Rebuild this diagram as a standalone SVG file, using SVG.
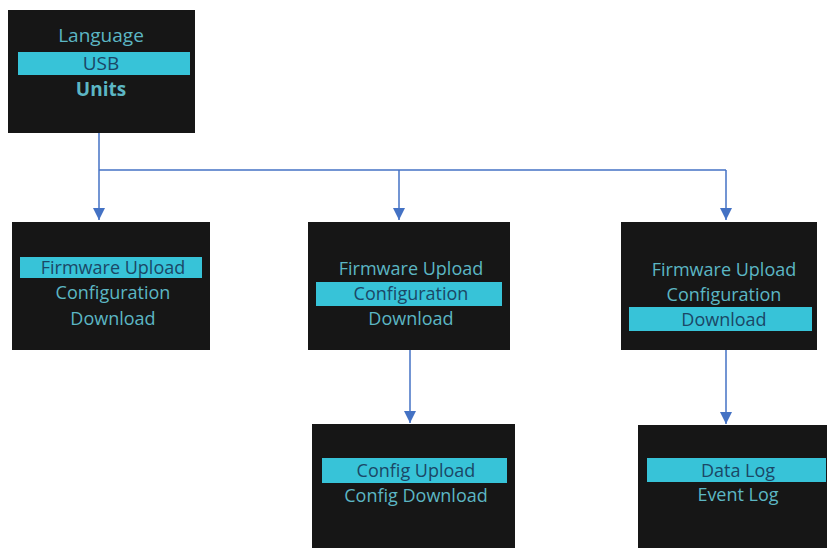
<svg xmlns="http://www.w3.org/2000/svg" width="828" height="549" viewBox="0 0 828 549">
  <style>
    .screen { fill: #161616; }
    .sel { fill: #37c3d8; }
    .t { font-family: "Open Sans", "Noto Sans", sans-serif; font-size: 18px; font-weight: 500; text-anchor: middle; fill: #5cb6c4; }
    .big { font-size: 19px; }
    .ts { fill: #1b4766; }
    .b { font-weight: bold; }
    .wire { stroke: #4472c4; stroke-width: 1.5; fill: none; }
  </style>
  <defs>
    <marker id="arrow" markerUnits="userSpaceOnUse" markerWidth="13" markerHeight="13" refX="12" refY="6.5" orient="auto">
      <path d="M0,0.5 L12,6.5 L0,12.5 z" fill="#4472c4"/>
    </marker>
  </defs>

  <rect width="828" height="549" fill="#ffffff"/>

  <!-- connectors -->
  <g id="connectors">
    <line class="wire" x1="99" y1="133" x2="99" y2="220" marker-end="url(#arrow)"/>
    <line class="wire" x1="99" y1="170" x2="726" y2="170"/>
    <line class="wire" x1="399" y1="170" x2="399" y2="220" marker-end="url(#arrow)"/>
    <line class="wire" x1="726" y1="170" x2="726" y2="220" marker-end="url(#arrow)"/>
    <line class="wire" x1="410" y1="350" x2="410" y2="423" marker-end="url(#arrow)"/>
    <line class="wire" x1="726" y1="350" x2="726" y2="424" marker-end="url(#arrow)"/>
  </g>

  <!-- main menu -->
  <g id="main-menu">
    <rect class="screen" x="8" y="10" width="187" height="123"/>
    <rect class="sel" x="18" y="52" width="172" height="23"/>
    <text class="t big" x="101" y="42">Language</text>
    <text class="t big ts" x="101" y="70">USB</text>
    <text class="t big b" x="101" y="96">Units</text>
  </g>

  <!-- USB menu: firmware upload selected -->
  <g id="usb-firmware">
    <rect class="screen" x="12" y="222" width="198" height="128"/>
    <rect class="sel" x="20" y="257" width="182" height="21"/>
    <text class="t ts" x="113" y="274">Firmware Upload</text>
    <text class="t" x="113" y="299">Configuration</text>
    <text class="t" x="113" y="325">Download</text>
  </g>

  <!-- USB menu: configuration selected -->
  <g id="usb-configuration">
    <rect class="screen" x="308" y="222" width="202" height="128"/>
    <rect class="sel" x="316" y="282" width="186" height="24"/>
    <text class="t" x="411" y="275">Firmware Upload</text>
    <text class="t ts" x="411" y="300">Configuration</text>
    <text class="t" x="411" y="325">Download</text>
  </g>

  <!-- USB menu: download selected -->
  <g id="usb-download">
    <rect class="screen" x="621" y="222" width="196" height="128"/>
    <rect class="sel" x="629" y="307" width="183" height="24"/>
    <text class="t" x="724" y="276">Firmware Upload</text>
    <text class="t" x="724" y="301">Configuration</text>
    <text class="t ts" x="724" y="326">Download</text>
  </g>

  <!-- configuration submenu -->
  <g id="config-menu">
    <rect class="screen" x="312" y="424" width="203" height="124"/>
    <rect class="sel" x="322" y="458" width="185" height="25"/>
    <text class="t ts" x="416" y="477">Config Upload</text>
    <text class="t" x="416" y="502">Config Download</text>
  </g>

  <!-- download submenu -->
  <g id="download-menu">
    <rect class="screen" x="638" y="425" width="189" height="123"/>
    <rect class="sel" x="647" y="458" width="179" height="24"/>
    <text class="t ts" x="738" y="477">Data Log</text>
    <text class="t" x="738" y="501">Event Log</text>
  </g>
</svg>
